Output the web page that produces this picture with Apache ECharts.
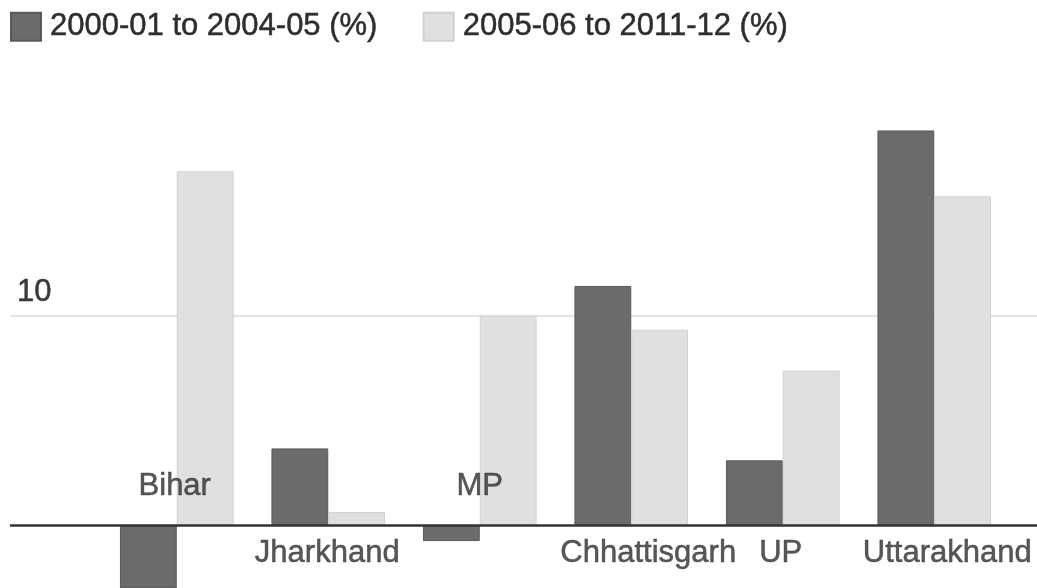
<!DOCTYPE html>
<html>
<head>
<meta charset="utf-8">
<script src="https://cdn.jsdelivr.net/npm/echarts@6/dist/echarts.min.js"></script>
<style>
  html, body { margin: 0; padding: 0; background: #fff; }
  #chart { width: 1037px; height: 588px; }
</style>
</head>
<body>
<div id="chart"></div>
<script>
const states = ["Bihar", "Jharkhand", "MP", "Chhattisgarh", "UP", "Uttarakhand"];
const period1 = [-3.6, 3.66, -0.76, 11.41, 3.09, 18.83];
const period2 = [16.88, 0.62, 10.0, 9.32, 7.37, 15.69];
const seriesNames = ["2000-01 to 2004-05 (%)", "2005-06 to 2011-12 (%)"];
const gridTicks = [10];
// small sideways nudges of the category names, in px
const labelNudge = [-2, -1, 0, 17, -2, 13];

const chartDom = document.getElementById("chart");
const chart = echarts.init(chartDom);

const font = "'Liberation Sans', Arial, sans-serif";
const ink = "#2e2e2e";
// a hair of outline so the text reads as heavy as the reference
const heavy = { textBorderColor: ink, textBorderWidth: 0.5 };

// category names sit under the baseline, or over it when the first bar dips below zero
const labelPoints = states.map((s, i) => ({
  value: 0,
  name: s,
  label: period1[i] < 0
    ? { position: "top", distance: 23, offset: [labelNudge[i], 0] }
    : { position: "bottom", distance: 13, offset: [labelNudge[i], 0] },
}));

const option = {
  animation: false,
  textStyle: { fontFamily: font },
  legend: {
    left: 5,
    top: 6,
    icon: "rect",
    itemWidth: 30,
    itemHeight: 28,
    itemGap: 45,
    textStyle: { fontSize: 31, color: ink, fontFamily: font, padding: [2, 0, 0, 4], ...heavy },
    data: seriesNames,
  },
  grid: [
    { left: 101, right: 27, top: 64, bottom: -2 },
    { left: 10, right: 0, top: 64, bottom: -2 },
  ],
  xAxis: [
    { type: "category", data: states, gridIndex: 0, show: false },
    { type: "value", gridIndex: 1, min: 0, max: 1, show: false },
  ],
  yAxis: [
    { type: "value", gridIndex: 0, min: -3, max: 22, show: false },
    { type: "value", gridIndex: 1, min: -3, max: 22, show: false },
  ],
  series: [
    {
      name: seriesNames[0],
      type: "bar",
      data: period1,
      barGap: "0%",
      barCategoryGap: "25%",
      itemStyle: { color: "#6b6b6b", borderColor: "#5a5a5a", borderWidth: 1 },
      z: 2,
    },
    {
      name: seriesNames[1],
      type: "bar",
      data: period2,
      itemStyle: { color: "#e0e0e0", borderColor: "#d0d0d0", borderWidth: 1 },
      z: 2,
    },
    {
      type: "scatter",
      data: labelPoints,
      symbolSize: 0,
      silent: true,
      z: 4,
      label: {
        show: true,
        formatter: (p) => p.name,
        fontSize: 31,
        color: ink,
        fontFamily: font,
        ...heavy,
      },
    },
    {
      type: "line",
      xAxisIndex: 1,
      yAxisIndex: 1,
      data: [],
      silent: true,
      z: 0,
      markLine: {
        z: 0,
        silent: true,
        symbol: "none",
        animation: false,
        data: gridTicks.map((t) => ({
          yAxis: t,
          lineStyle: { color: "#dcdcdc", width: 1.5, type: "solid" },
          label: {
            show: true,
            formatter: String(t),
            position: "insideStartTop",
            fontSize: 31,
            color: "#3a3a3a",
            fontFamily: font,
            distance: [7, 8],
            textBorderColor: "#3a3a3a",
            textBorderWidth: 0.5,
          },
        })),
      },
    },
    {
      type: "line",
      xAxisIndex: 1,
      yAxisIndex: 1,
      data: [],
      silent: true,
      z: 5,
      markLine: {
        z: 5,
        silent: true,
        symbol: "none",
        animation: false,
        data: [{ yAxis: 0 }],
        lineStyle: { color: "#333", width: 2.5, type: "solid" },
        label: { show: false },
      },
    },
  ],
};

option && chart.setOption(option);
</script>
</body>
</html>
